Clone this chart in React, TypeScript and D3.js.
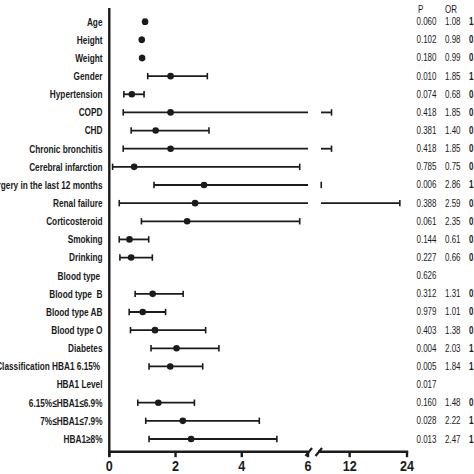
import React from "react";
import * as d3 from "d3";

const labels = [
  "Age", "Height", "Weight", "Gender", "Hypertension", "COPD", "CHD",
  "Chronic bronchitis", "Cerebral infarction", "Surgery in the last 12 months",
  "Renal failure", "Corticosteroid", "Smoking", "Drinking", "Blood type ",
  "Blood type  B", "Blood type AB", "Blood type O", "Diabetes",
  "Classification HBA1 6.15% ", "HBA1 Level", "6.15%≤HBA1≤6.9%",
  "7%≤HBA1≤7.9%", "HBA1≥8%",
];
const pValues = [
  "0.060", "0.102", "0.180", "0.010", "0.074", "0.418", "0.381", "0.418",
  "0.785", "0.006", "0.388", "0.061", "0.144", "0.227", "0.626", "0.312",
  "0.979", "0.403", "0.004", "0.005", "0.017", "0.160", "0.028", "0.013",
];
const orValues: (number | null)[] = [
  1.08, 0.98, 0.99, 1.85, 0.68, 1.85, 1.4, 1.85, 0.75, 2.86, 2.59, 2.35,
  0.61, 0.66, null, 1.31, 1.01, 1.38, 2.03, 1.84, null, 1.48, 2.22, 2.47,
];
const ciLower: (number | null)[] = [
  1.05, 0.96, 0.97, 1.16, 0.44, 0.42, 0.66, 0.42, 0.1, 1.35, 0.3, 0.97,
  0.3, 0.32, null, 0.78, 0.6, 0.64, 1.26, 1.2, null, 0.86, 1.1, 1.2,
];
const ciUpper: (number | null)[] = [
  1.11, 1.0, 1.01, 2.96, 1.05, 8.2, 3.01, 8.2, 5.75, 6.05, 22.5, 5.75,
  1.19, 1.3, null, 2.23, 1.7, 2.91, 3.31, 2.82, null, 2.57, 4.53, 5.06,
];
const ticksLow = [0, 2, 4, 6];
const ticksHigh = [12, 24];
const breakValue = 6;

const W = 474;
const H = 474;
const INK = "#1b1b1b";
const FONT = "'Liberation Sans', Arial, sans-serif";

export default function App() {
  const x1 = d3.scaleLinear().domain([0, breakValue]).range([109.3, 308]);
  const x2 = d3.scaleLinear().domain([breakValue, 24]).range([321, 407]);
  const y = d3.scalePoint<string>().domain(labels.map((_, i) => String(i))).range([21.7, 439]);
  const axisY = 451.7;
  const axisX = 109.3;
  const xv = (v: number) => (v <= breakValue ? x1(v) : x2(v));

  const label = (txt: string, x: number, yy: number, size: number, weight: string, sx: number, anchor: string, key?: any) => (
    <text
      key={key}
      transform={`translate(${x},${yy}) scale(${sx},1)`}
      textAnchor={anchor as any}
      dy="0.35em"
      fontSize={size}
      fontWeight={weight}
      fontFamily={FONT}
      fill={INK}
      style={{ whiteSpace: "pre" }}
    >
      {txt}
    </text>
  );

  return (
    <svg
      width={W}
      height={H}
      style={{ position: "absolute", left: 0, top: 0, display: "block", background: "#fff" }}
    >
      <rect width={W} height={H} fill="#fff" />
      {/* left axis */}
      <line x1={axisX} x2={axisX} y1={8} y2={axisY + 5} stroke={INK} strokeWidth={2.4} />
      {/* bottom axis segments */}
      <line x1={axisX - 1.2} x2={x1(breakValue)} y1={axisY} y2={axisY} stroke={INK} strokeWidth={2.4} />
      <line x1={318} x2={x2(24) + 1.2} y1={axisY} y2={axisY} stroke={INK} strokeWidth={2.4} />
      {/* break slashes */}
      <line x1={305.5} x2={312} y1={456} y2={448} stroke={INK} strokeWidth={2.2} />
      <line x1={315.5} x2={322} y1={456} y2={448} stroke={INK} strokeWidth={2.2} />
      {ticksLow.map((t) => (
        <g key={"tl" + t}>
          <line x1={x1(t)} x2={x1(t)} y1={axisY} y2={axisY + 5.5} stroke={INK} strokeWidth={2.4} />
          {label(String(t), x1(t), 466.5, 14, "bold", 0.9, "middle")}
        </g>
      ))}
      {ticksHigh.map((t) => (
        <g key={"th" + t}>
          <line x1={x2(t)} x2={x2(t)} y1={axisY} y2={axisY + 5.5} stroke={INK} strokeWidth={2.4} />
          {label(String(t), x2(t), 466.5, 14, "bold", 0.9, "middle")}
        </g>
      ))}
      {/* row labels */}
      {labels.map((l, i) => label(l, 102.5, y(String(i))!, 11, "bold", 0.75, "end", "lab" + i))}
      {/* whiskers and points */}
      {labels.map((_, i) => {
        const lo = ciLower[i];
        const hi = ciUpper[i];
        const or = orValues[i];
        const yy = y(String(i))!;
        if (or == null || lo == null || hi == null) return null;
        const parts: any[] = [];
        if (hi <= breakValue) {
          parts.push(<line key="w" x1={xv(lo)} x2={xv(hi)} y1={yy} y2={yy} stroke={INK} strokeWidth={1.8} />);
        } else {
          parts.push(<line key="w1" x1={xv(lo)} x2={x1(breakValue)} y1={yy} y2={yy} stroke={INK} strokeWidth={1.8} />);
          parts.push(<line key="w2" x1={x2(breakValue)} x2={x2(hi)} y1={yy} y2={yy} stroke={INK} strokeWidth={1.8} />);
        }
        parts.push(<line key="c1" x1={xv(lo)} x2={xv(lo)} y1={yy - 3.2} y2={yy + 3.2} stroke={INK} strokeWidth={1.6} />);
        parts.push(<line key="c2" x1={xv(hi)} x2={xv(hi)} y1={yy - 3.2} y2={yy + 3.2} stroke={INK} strokeWidth={1.6} />);
        parts.push(<circle key="d" cx={xv(or)} cy={yy} r={3.3} fill={INK} />);
        return <g key={"row" + i}>{parts}</g>;
      })}
      {/* table */}
      {label("P", 418, 9, 10, "normal", 0.8, "start")}
      {label("OR", 445, 9, 10, "normal", 0.8, "start")}
      {labels.map((_, i) => {
        const yy = y(String(i))!;
        const or = orValues[i];
        const lo = ciLower[i];
        const hi = ciUpper[i];
        return (
          <g key={"tab" + i}>
            {label(pValues[i], 416.5, yy, 10, "normal", 0.8, "start")}
            {or != null && label(or.toFixed(2), 445, yy, 10, "normal", 0.8, "start")}
            {lo != null && hi != null && label(`${lo.toFixed(2)}-${hi.toFixed(2)}`, 469, yy, 10, "bold", 0.8, "start")}
          </g>
        );
      })}
    </svg>
  );
}
